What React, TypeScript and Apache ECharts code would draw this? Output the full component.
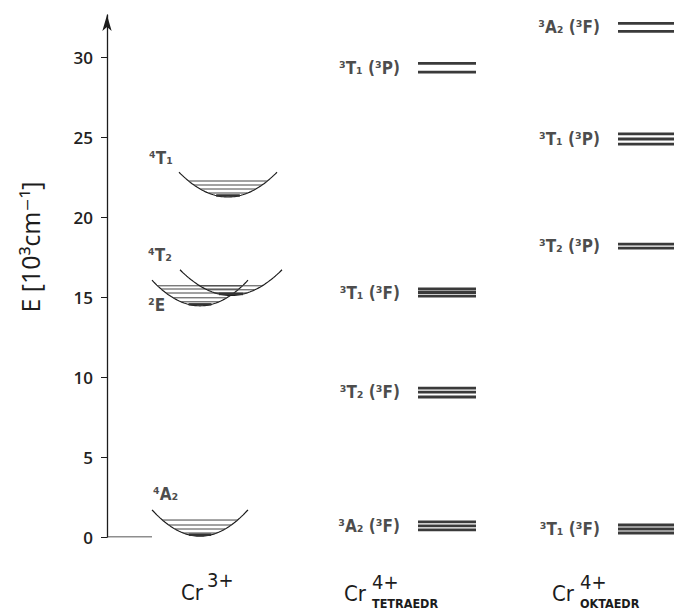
import React, { useEffect, useRef } from 'react';
import * as echarts from 'echarts';

// ---- data (energies in 10^3 cm^-1) ----
const yTicks = [0, 5, 10, 15, 20, 25, 30];

// Cr3+ potential curves
const crStates = ['⁴A₂', '²E', '⁴T₂', '⁴T₁'];
const crMinE = [0.05, 14.45, 15.1, 21.25];
const crTopE = [1.7, 16.05, 16.7, 22.8];
const crVib = [
  [1.06, 0.75, 0.5, 0.25],
  [15.7, 15.5, 15.25, 14.95, 14.7],
  [15.7, 15.45, 15.25],
  [22.25, 22.0, 21.75, 21.5],
];

// Cr4+ tetrahedral levels
const tetraLabels = ['³A₂ (³F)', '³T₂ (³F)', '³T₁ (³F)', '³T₁ (³P)'];
const tetraLines = [
  [0.94, 0.69, 0.44],
  [9.31, 9.06, 8.75],
  [15.5, 15.28, 15.06],
  [29.6, 29.05],
];

// Cr4+ octahedral levels
const oktaLabels = ['³T₁ (³F)', '³T₂ (³P)', '³T₁ (³P)', '³A₂ (³F)'];
const oktaLines = [
  [0.75, 0.5, 0.25],
  [18.3, 18.06],
  [25.19, 24.875, 24.56],
  [32.1, 31.6],
];

// ---- layout (pixels along the x axis, measured from the E axis) ----
const X_MAX = 569;
const Y_MAX = 32.625;
const crCenter = [93, 93, 124, 121];
const crHalfW = [48, 48, 51, 49];
const crLabelOffset: [number, number][] = [[1, -16], [-4, 25], [-32, -15], [-30, -14]];
const tetraX = [311, 369];
const oktaX = [511, 567];
const baseX = [0, 45];

const FONT = "'Liberation Sans Narrow', 'DejaVu Sans Condensed', 'Roboto', sans-serif";
const TICKFONT = "'Open Sans', 'DejaVu Sans', sans-serif";
const INK = '#1c1c1c';

function buildOption() {
  const series: any[] = [];

  // baseline at E = 0
  series.push({
    type: 'line', data: [[baseX[0], 0], [baseX[1], 0]], symbol: 'none', silent: true,
    lineStyle: { color: INK, width: 1 },
  });

  // parabolas
  crStates.forEach((_, i) => {
    const c = crCenter[i], hw = crHalfW[i], e0 = crMinE[i], e1 = crTopE[i];
    const pts: number[][] = [];
    for (let k = 0; k <= 60; k++) {
      const x = c - hw + (2 * hw * k) / 60;
      const t = (x - c) / hw;
      pts.push([x, e0 + (e1 - e0) * t * t]);
    }
    series.push({
      type: 'line', data: pts, symbol: 'none', silent: true, smooth: false,
      lineStyle: { color: INK, width: 1.2 },
    });
    crVib[i].forEach((e) => {
      const d = hw * Math.sqrt(Math.max(0, (e - e0) / (e1 - e0)));
      series.push({
        type: 'line', data: [[c - d, e], [c + d, e]], symbol: 'none', silent: true,
        lineStyle: { color: '#444', width: 1 },
      });
    });
    // dark lens at the bottom of the well
    const eb = e0 + 0.09;
    const db = hw * Math.sqrt(0.09 / (e1 - e0));
    series.push({
      type: 'line', data: [[c - db, eb], [c + db, eb]], symbol: 'none', silent: true,
      lineStyle: { color: '#333', width: 2.5 },
    });
  });

  // Cr3+ state labels
  series.push({
    type: 'scatter', symbolSize: 0, silent: true,
    data: crStates.map((s, i) => ({
      value: [crCenter[i] - crHalfW[i], crTopE[i]],
      label: {
        show: true, formatter: s, position: 'inside', align: 'left', verticalAlign: 'middle',
        offset: crLabelOffset[i], fontFamily: FONT, fontSize: 17, color: INK, fontWeight: 'bold',
      },
    })),
  });

  const levelColumn = (labels: string[], lines: number[][], xr: number[]) => {
    lines.forEach((band) => {
      band.forEach((e) => {
        series.push({
          type: 'line', data: [[xr[0], e], [xr[1], e]], symbol: 'none', silent: true,
          lineStyle: { color: '#3a3a3a', width: 2.8 },
        });
      });
    });
    series.push({
      type: 'scatter', symbolSize: 0, silent: true,
      data: labels.map((s, i) => {
        const b = lines[i];
        const mean = b.reduce((a, v) => a + v, 0) / b.length;
        return {
          value: [xr[0], mean],
          label: {
            show: true, formatter: s, position: 'left', distance: 18,
            fontFamily: FONT, fontSize: 17, color: INK, fontWeight: 'bold',
          },
        };
      }),
    });
  };
  levelColumn(tetraLabels, tetraLines, tetraX);
  levelColumn(oktaLabels, oktaLines, oktaX);

  const txt = (text: string, x: number, y: number, size: number, weight: any = 'normal') => ({
    type: 'text', x, y, silent: true,
    style: {
      text, fontSize: size, fontFamily: FONT, fontWeight: weight, fill: INK,
      textAlign: 'left', textVerticalAlign: 'middle', align: 'left', verticalAlign: 'middle',
    },
  });

  return {
    animation: false,
    backgroundColor: '#ffffff',
    grid: { left: 107, right: 0, top: 15, bottom: 614 - 537, containLabel: false },
    xAxis: { type: 'value', min: 0, max: X_MAX, show: false },
    yAxis: {
      type: 'value', min: 0, max: Y_MAX, interval: 5,
      axisLine: {
        show: true, onZero: false, symbol: ['none', 'arrow'], symbolSize: [7, 16],
        lineStyle: { color: INK, width: 1.3 },
      },
      axisTick: { show: true, length: 6, customValues: yTicks, lineStyle: { color: INK, width: 1 } },
      axisLabel: {
        customValues: yTicks, margin: 14, fontSize: 17, fontWeight: 600, color: '#222', fontFamily: TICKFONT,
        formatter: (v: number) => (v % 5 === 0 ? String(v) : ''),
      },
      splitLine: { show: false },
    },
    graphic: [
      {
        type: 'text', x: 30, y: 247, rotation: Math.PI / 2, silent: true,
        style: {
          text: 'E [10³cm⁻¹]', fontSize: 25, fontFamily: TICKFONT, fill: INK,
          textAlign: 'center', textVerticalAlign: 'middle', align: 'center', verticalAlign: 'middle',
        },
      },
      txt('Cr', 181, 592, 22),
      txt('3+', 207, 580, 20),
      txt('Cr', 344, 593, 22),
      txt('4+', 372, 582, 20),
      txt('TETRAEDR', 372, 603, 12.5, 'bold'),
      txt('Cr', 552, 593, 22),
      txt('4+', 580, 582, 20),
      txt('OKTAEDR', 580, 603, 12.5, 'bold'),
    ],
    series,
  };
}

export default function App() {
  const ref = useRef<HTMLDivElement>(null);
  useEffect(() => {
    if (!ref.current) return;
    const chart = echarts.init(ref.current, undefined, { renderer: 'svg', width: 676, height: 614 });
    chart.setOption(buildOption() as any);
    return () => chart.dispose();
  }, []);
  return (
    <div
      ref={ref}
      style={{ position: 'absolute', left: 0, top: 0, width: 676, height: 614, background: '#fff' }}
    />
  );
}
